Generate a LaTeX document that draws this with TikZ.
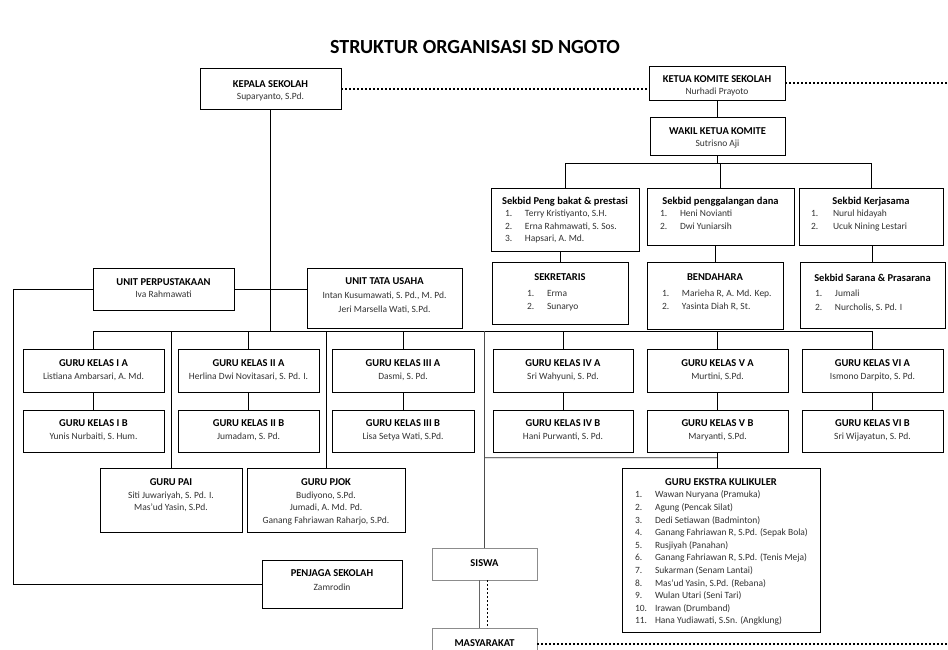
\documentclass[tikz,border=0pt]{standalone}
\usepackage{fontspec}
\setmainfont{Carlito}
\usetikzlibrary{calc}
\newcommand{\ttl}{\fontsize{10.5}{12}\selectfont\bfseries\color{black}}
\newcommand{\cbx}[5]{\parbox[c][#2pt][t]{#1pt}{\fontsize{9.5}{#3pt}\selectfont\color{black!80}\centering\vspace*{#4pt}#5\par}}
\newcommand{\lbx}[5]{\parbox[c][#2pt][t]{#1pt}{\fontsize{9.5}{#3pt}\selectfont\color{black!80}\raggedright\vspace*{#4pt}#5\par}}
\newcommand{\li}[4]{\hspace*{#1pt}\makebox[#2pt][l]{#3}#4}
\begin{document}
\begin{tikzpicture}[x=1pt,y=-1pt,
  bx/.style={draw=black, line width=0.9pt, inner sep=0pt, outer sep=0pt, anchor=north west},
  gbx/.style={bx, draw=black!45},
  ln/.style={line width=0.9pt, draw=black},
  dots/.style={line width=2pt, dash pattern=on 2pt off 2pt, draw=black},
  dbl/.style={draw=black!55, double=black!12, double distance=0.8pt, line width=0.6pt}]
\useasboundingbox (0,0) rectangle (948,649);
\fill[white] (0,0) rectangle (948,649);

\node[font=\fontsize{20}{24}\selectfont\bfseries] (title) at (475,47) {STRUKTUR ORGANISASI SD NGOTO};

% committee side
\node[bx] (kepala) at (200,68) {\cbx{141}{41}{12}{12.5}{{\ttl KEPALA SEKOLAH}\\Suparyanto, S.Pd.}};
\node[bx] (ketua) at (649,66) {\cbx{136}{34}{12}{9.5}{{\ttl KETUA KOMITE SEKOLAH}\\Nurhadi Prayoto}};
\node[bx] (wakil) at (650,117) {\cbx{135}{38}{12}{11}{{\ttl WAKIL KETUA KOMITE}\\Sutrisno Aji}};

\node[bx] (sek1) at (491,188) {\lbx{148}{63}{12.5}{9}{{\centering\ttl Sekbid Peng bakat \& prestasi\par}\li{14}{20}{1.}{Terry Kristiyanto, S.H.}\\\li{14}{20}{2.}{Erna Rahmawati, S. Sos.}\\\li{14}{20}{3.}{Hapsari, A. Md.}}};
\node[bx] (sek2) at (647,188) {\lbx{147}{57}{12.5}{9}{{\centering\ttl Sekbid penggalangan dana\par}\li{13}{20}{1.}{Heni Novianti}\\\li{13}{20}{2.}{Dwi Yuniarsih}}};
\node[bx] (sek3) at (799,188) {\lbx{144}{57}{12.5}{9}{{\centering\ttl Sekbid Kerjasama\par}\li{12}{22}{1.}{Nurul hidayah}\\\li{12}{22}{2.}{Ucuk Nining Lestari}}};

\node[bx] (sekr) at (492,262) {\lbx{136}{62}{13.5}{12}{{\centering\ttl SEKRETARIS\par}\vspace{2pt}\li{35}{20}{1.}{Erma}\\\li{35}{20}{2.}{Sunaryo}}};
\node[bx] (bend) at (647,262) {\lbx{136}{67}{13.5}{12}{{\centering\ttl BENDAHARA\par}\vspace{2pt}\li{15}{20}{1.}{Marieha R, A. Md. Kep.}\\\li{15}{20}{2.}{Yasinta Diah R, St.}}};
\node[bx] (sarana) at (800,262) {\lbx{145}{66}{13.5}{12}{{\centering\ttl Sekbid Sarana \& Prasarana\par}\vspace{2pt}\li{15}{20}{1.}{Jumali}\\\li{15}{20}{2.}{Nurcholis, S. Pd. I}}};

% units
\node[bx] (perpus) at (93,268) {\cbx{141}{42}{12.5}{10.5}{{\ttl UNIT PERPUSTAKAAN}\\Iva Rahmawati}};
\node[bx] (tata) at (307,268) {\cbx{155}{60}{14}{10}{{\ttl UNIT TATA USAHA}\\Intan Kusumawati, S. Pd., M. Pd.\\Jeri Marsella Wati, S.Pd.}};

% teachers row A
\node[bx] (g1a) at (23,349) {\cbx{141}{43}{13.5}{10.5}{{\ttl GURU KELAS I A}\\Listiana Ambarsari, A. Md.}};
\node[bx] (g2a) at (178,349) {\cbx{141}{43}{13.5}{10.5}{{\ttl GURU KELAS II A}\\Herlina Dwi Novitasari, S. Pd. I.}};
\node[bx] (g3a) at (332,349) {\cbx{142}{43}{13.5}{10.5}{{\ttl GURU KELAS III A}\\Dasmi, S. Pd.}};
\node[bx] (g4a) at (493,349) {\cbx{140}{43}{13.5}{10.5}{{\ttl GURU KELAS IV A}\\Sri Wahyuni, S. Pd.}};
\node[bx] (g5a) at (647,349) {\cbx{141}{43}{13.5}{10.5}{{\ttl GURU KELAS V A}\\Murtini, S.Pd.}};
\node[bx] (g6a) at (802,349) {\cbx{141}{43}{13.5}{10.5}{{\ttl GURU KELAS VI A}\\Ismono Darpito, S. Pd.}};
% teachers row B
\node[bx] (g1b) at (23,410) {\cbx{141}{42}{13}{9.5}{{\ttl GURU KELAS I B}\\Yunis Nurbaiti, S. Hum.}};
\node[bx] (g2b) at (178,410) {\cbx{141}{42}{13}{9.5}{{\ttl GURU KELAS II B}\\Jumadam, S. Pd.}};
\node[bx] (g3b) at (332,410) {\cbx{142}{42}{13}{9.5}{{\ttl GURU KELAS III B}\\Lisa Setya Wati, S.Pd.}};
\node[bx] (g4b) at (493,410) {\cbx{140}{42}{13}{9.5}{{\ttl GURU KELAS IV B}\\Hani Purwanti, S. Pd.}};
\node[bx] (g5b) at (647,410) {\cbx{141}{42}{13}{9.5}{{\ttl GURU KELAS V B}\\Maryanti, S.Pd.}};
\node[bx] (g6b) at (802,410) {\cbx{141}{42}{13}{9.5}{{\ttl GURU KELAS VI B}\\Sri Wijayatun, S. Pd.}};

\node[bx] (pai) at (100,468) {\cbx{142}{64}{12.5}{11}{{\ttl GURU PAI}\\Siti Juwariyah, S. Pd. I.\\Mas'ud Yasin, S.Pd.}};
\node[bx] (pjok) at (247,468) {\cbx{158}{64}{12.5}{11}{{\ttl GURU PJOK}\\Budiyono, S.Pd.\\Jumadi, A. Md. Pd.\\Ganang Fahriawan Raharjo, S.Pd.}};

\node[bx] (ekstra) at (622,468) {\lbx{198}{164}{12.6}{10.5}{{\centering\ttl GURU EKSTRA KULIKULER\par}%
\li{13}{20}{1.}{Wawan Nuryana (Pramuka)}\\
\li{13}{20}{2.}{Agung (Pencak Silat)}\\
\li{13}{20}{3.}{Dedi Setiawan (Badminton)}\\
\li{13}{20}{4.}{Ganang Fahriawan R, S.Pd. (Sepak Bola)}\\
\li{13}{20}{5.}{Rusjiyah (Panahan)}\\
\li{13}{20}{6.}{Ganang Fahriawan R, S.Pd. (Tenis Meja)}\\
\li{13}{20}{7.}{Sukarman (Senam Lantai)}\\
\li{13}{20}{8.}{Mas'ud Yasin, S.Pd. (Rebana)}\\
\li{13}{20}{9.}{Wulan Utari (Seni Tari)}\\
\li{13}{20}{10.}{Irawan (Drumband)}\\
\li{13}{20}{11.}{Hana Yudiawati, S.Sn. (Angklung)}}};

\node[bx] (penjaga) at (262,560) {\cbx{140}{48}{14}{10}{{\ttl PENJAGA SEKOLAH}\\Zamrodin}};
\node[gbx] (siswa) at (432,548) {\cbx{105}{32}{12}{12}{{\ttl SISWA}}};
\node[gbx] (masy) at (432,628) {\cbx{105}{32}{12}{11.5}{{\ttl MASYARAKAT}}};

% helper coordinates
\coordinate (bus) at (0,331);
\coordinate (kbus) at (0,163);
\coordinate (lft) at (13,0);
\coordinate (R) at (948,0);
\coordinate (dl) at (0,458);

% connectors: committee
\draw[dots] (kepala.east) -- (kepala.east -| ketua.west);
\draw[dots] (ketua.east) -- (ketua.east -| R);
\draw[ln] (ketua.south) -- (ketua.south |- wakil.north);
\draw[ln] (wakil.south) -- (wakil.south |- kbus);
\draw[ln] (sek1.north |- kbus) -- (sek3.north |- kbus);
\foreach \s in {sek1,sek2,sek3} \draw[ln] (\s.north) -- (\s.north |- kbus);
\draw[ln] (sekr.north) -- (sekr.north |- sek1.south);
\draw[ln] (bend.north) -- (bend.north |- sek2.south);
\draw[ln] (sarana.north) -- (sarana.north |- sek3.south);

% connectors: school
\draw[ln] (kepala.south) -- (kepala.south |- bus);
\draw[ln] (perpus.east) -- (perpus.east -| tata.west);
\draw[ln] (perpus.west) -- (perpus.west -| lft) |- (penjaga.west);
\draw[ln] (g1a.north |- bus) -- (g6a.north |- bus);
\foreach \g in {g1,g2,g3,g4,g5,g6} {
  \draw[ln] (\g a.north) -- (\g a.north |- bus);
  \draw[ln] (\g a.south) -- (\g b.north);
}
\draw[ln] (pai.north) -- (pai.north |- bus);
\draw[ln] (pjok.north) -- (pjok.north |- bus);
\draw[ln, draw=black!70] (siswa.north) -- (siswa.north |- bus);
\draw[dbl] (siswa.north |- dl) -- (g5b.south |- dl);
\draw[ln] (g5b.south) -- (g5b.south |- ekstra.north);
\draw[ln, draw=black!60] ($(siswa.south)+(-5,0)$) -- ($(masy.north)+(-5,0)$);
\draw[dots, line width=1.8pt] ($(siswa.south)+(3,0)$) -- ($(masy.north)+(3,0)$);
\draw[dots] (masy.east) -- (masy.east -| R);
\end{tikzpicture}
\end{document}
